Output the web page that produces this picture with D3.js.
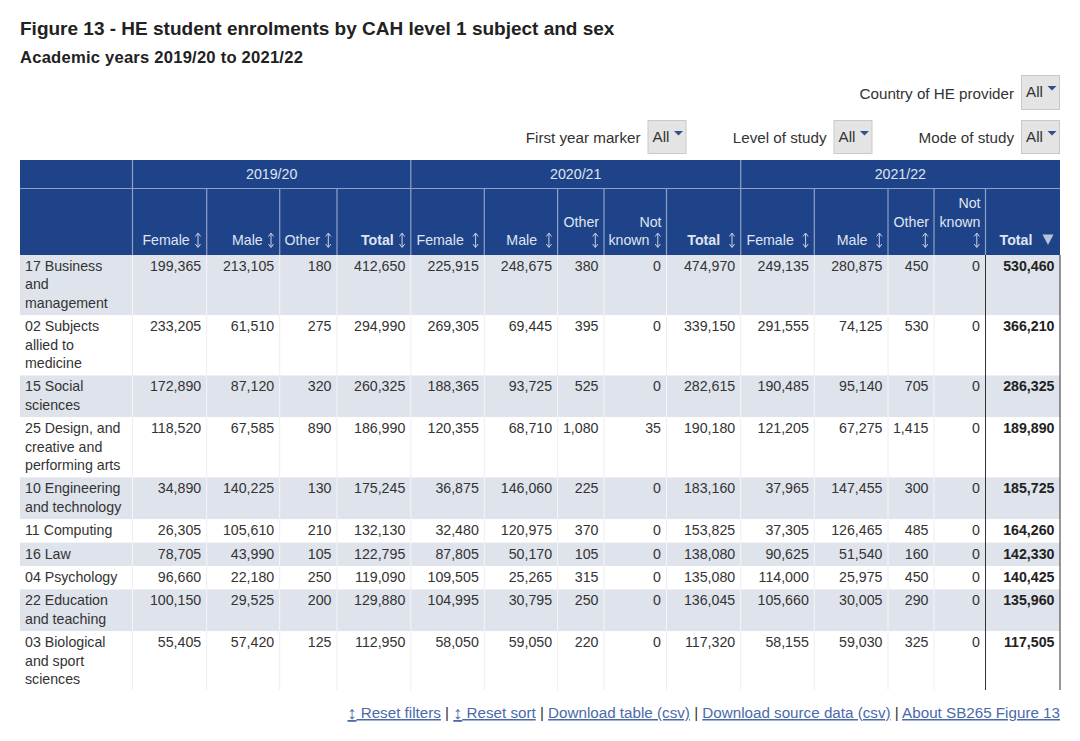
<!DOCTYPE html>
<html>
<head>
<meta charset="utf-8">
<script src="https://cdnjs.cloudflare.com/ajax/libs/d3/7.8.5/d3.min.js"></script>
<style>
  body { margin: 0; background: #fff; }
  svg { display: block; font-family: "Liberation Sans", Arial, sans-serif; }
  text { white-space: pre; }
</style>
</head>
<body>
<svg id="chart" width="1080" height="741"></svg>
<script>
const subjects = [
  ['17 Business', 'and', 'management'],
  ['02 Subjects', 'allied to', 'medicine'],
  ['15 Social', 'sciences'],
  ['25 Design, and', 'creative and', 'performing arts'],
  ['10 Engineering', 'and technology'],
  ['11 Computing'],
  ['16 Law'],
  ['04 Psychology'],
  ['22 Education', 'and teaching'],
  ['03 Biological', 'and sport', 'sciences']
]

const years = ['2019/20', '2020/21', '2021/22']

const female1920 = [199365, 233205, 172890, 118520, 34890, 26305, 78705, 96660, 100150, 55405]
const male1920 = [213105, 61510, 87120, 67585, 140225, 105610, 43990, 22180, 29525, 57420]
const other1920 = [180, 275, 320, 890, 130, 210, 105, 250, 200, 125]
const total1920 = [412650, 294990, 260325, 186990, 175245, 132130, 122795, 119090, 129880, 112950]

const female2021 = [225915, 269305, 188365, 120355, 36875, 32480, 87805, 109505, 104995, 58050]
const male2021 = [248675, 69445, 93725, 68710, 146060, 120975, 50170, 25265, 30795, 59050]
const other2021 = [380, 395, 525, 1080, 225, 370, 105, 315, 250, 220]
const unknown2021 = [0, 0, 0, 35, 0, 0, 0, 0, 0, 0]
const total2021 = [474970, 339150, 282615, 190180, 183160, 153825, 138080, 135080, 136045, 117320]

const female2122 = [249135, 291555, 190485, 121205, 37965, 37305, 90625, 114000, 105660, 58155]
const male2122 = [280875, 74125, 95140, 67275, 147455, 126465, 51540, 25975, 30005, 59030]
const other2122 = [450, 530, 705, 1415, 300, 485, 160, 450, 290, 325]
const unknown2122 = [0, 0, 0, 0, 0, 0, 0, 0, 0, 0]
const total2122 = [530460, 366210, 286325, 189890, 185725, 164260, 142330, 140425, 135960, 117505]

const valueColumns = [female1920, male1920, other1920, total1920,
  female2021, male2021, other2021, unknown2021, total2021,
  female2122, male2122, other2122, unknown2122, total2122]

const headerLabels = [
  ['Female'], ['Male'], ['Other'], ['Total'],
  ['Female'], ['Male'], ['Other', ''], ['Not', 'known'], ['Total'],
  ['Female'], ['Male'], ['Other', ''], ['Not', 'known', ''], ['Total']
]

const filtersTop = ['Country of HE provider']
const filtersBottom = ['First year marker', 'Level of study', 'Mode of study']

const links = ['Reset filters', 'Reset sort', 'Download table (csv)', 'Download source data (csv)', 'About SB265 Figure 13']

// layout
const edges = [20, 132.5, 206.7, 279.7, 337, 410.8, 484.3, 557.6, 604, 666.5, 740.7, 814.3, 888, 934, 985.5, 1060]
const labelGap = [17, 17, 17, 17, 20.5, 20.5, 5, 17, 20.5, 20.5, 20.5, 5, 5, 27.6]
const fontSize = 14.2
const uiFontSize = 15.2
const lineHeight = 18.4
const tableTop = 160
const subHeaderTop = 188.5
const bodyTop = 255
const tableBottom = 690
const headerText = '#dfe5f1'

const svg = d3.select('#chart')
const nCols = edges.length - 1

const x = d3.scaleOrdinal(d3.range(edges.length), edges)
const rowHeights = subjects.map(d => d.length * lineHeight + 5)
const rowTops = d3.cumsum([bodyTop].concat(rowHeights))

svg.append('text').attr('x', 20).attr('y', 35)
  .attr('font-size', 19).attr('font-weight', 'bold').attr('fill', '#222')
  .text('Figure 13 - HE student enrolments by CAH level 1 subject and sex')

svg.append('text').attr('x', 20).attr('y', 63)
  .attr('font-size', 16.6).attr('letter-spacing', 0.22).attr('font-weight', 'bold').attr('fill', '#222')
  .text('Academic years 2019/20 to 2021/22')

function drawFilter (label, right, top, h) {
  svg.append('text').attr('x', right - 46).attr('y', top + h - 10)
    .attr('text-anchor', 'end').attr('font-size', uiFontSize).attr('fill', '#333').text(label)
  svg.append('rect').attr('x', right - 38.5).attr('y', top + 0.5).attr('width', 38).attr('height', h)
    .attr('fill', '#e4e4e4').attr('stroke', '#c9c9c9')
  svg.append('text').attr('x', right - 34).attr('y', top + 22)
    .attr('font-size', uiFontSize).attr('fill', '#333').text('All')
  svg.append('path').attr('d', `M${right - 12.5},${top + 11}h9l-4.5,4.5z`)
    .attr('fill', '#2f4f90')
}

drawFilter(filtersTop[0], 1060, 75, 34)
drawFilter(filtersBottom[0], 686.5, 120, 33)
drawFilter(filtersBottom[1], 872.5, 120, 33)
drawFilter(filtersBottom[2], 1060, 120, 33)

// header block
svg.append('rect').attr('x', 20).attr('y', tableTop)
  .attr('width', 1040).attr('height', bodyTop - tableTop).attr('fill', '#1f4389')

const headerLine = '#8fa1c7'
const yearEdges = [1, 5, 10, 15]

svg.append('g').selectAll('line')
  .data(yearEdges.slice(0, -1))
  .join('line')
  .attr('x1', d => x(d)).attr('x2', d => x(d))
  .attr('y1', tableTop).attr('y2', subHeaderTop)
  .attr('stroke', headerLine).attr('stroke-width', 1.2)

svg.append('line').attr('x1', 20).attr('x2', 1060)
  .attr('y1', subHeaderTop).attr('y2', subHeaderTop)
  .attr('stroke', headerLine).attr('stroke-width', 1.2)

svg.append('g').selectAll('line')
  .data(d3.range(1, nCols))
  .join('line')
  .attr('x1', d => x(d)).attr('x2', d => x(d))
  .attr('y1', subHeaderTop).attr('y2', bodyTop)
  .attr('stroke', headerLine).attr('stroke-width', 1.2)

svg.append('g').selectAll('text')
  .data(years)
  .join('text')
  .attr('x', (d, i) => (x(yearEdges[i]) + x(yearEdges[i + 1])) / 2)
  .attr('y', 178.5)
  .attr('text-anchor', 'middle').attr('font-size', fontSize).attr('fill', headerText)
  .text(d => d)

const headerCols = svg.append('g').selectAll('g')
  .data(headerLabels)
  .join('g')

headerCols.selectAll('text')
  .data((lines, col) => lines.map((t, i) => ({ t, col, up: lines.length - 1 - i })))
  .join('text')
  .attr('x', d => x(d.col + 2) - (d.up === 0 ? labelGap[d.col] : 5))
  .attr('y', d => 245 - d.up * lineHeight)
  .attr('text-anchor', 'end')
  .attr('font-size', fontSize)
  .attr('font-weight', d => (d.t === 'Total' ? 'bold' : 'normal'))
  .attr('fill', headerText)
  .text(d => d.t)

// sort arrows, thin shaft with small heads, the last column has the sorted marker instead
svg.append('g').selectAll('path')
  .data(d3.range(valueColumns.length - 1))
  .join('path')
  .attr('d', d => {
    const cx = x(d + 2) - 8.7
    return `M${cx},233.5V247M${cx - 2.6},236.5L${cx},233L${cx + 2.6},236.5M${cx - 2.6},244L${cx},247.5L${cx + 2.6},244`
  })
  .attr('fill', 'none').attr('stroke', '#c9d2e5').attr('stroke-width', 1)

svg.append('path').attr('d', `M${x(15) - 17.5},234.5h11l-5.5,10.5z`).attr('fill', '#b9c4dc')

// body rows
svg.append('g').selectAll('rect')
  .data(subjects)
  .join('rect')
  .attr('x', 20).attr('width', 1040)
  .attr('y', (d, i) => rowTops[i])
  .attr('height', (d, i) => (i === subjects.length - 1 ? tableBottom - rowTops[i] : rowHeights[i]))
  .attr('fill', (d, i) => (i % 2 === 0 ? '#dfe3ec' : '#fff'))

// thin cell dividers, white on shaded rows and pale grey on the others
d3.range(1, nCols).forEach(col => {
  svg.append('g').selectAll('line')
    .data(subjects)
    .join('line')
    .attr('x1', x(col)).attr('x2', x(col))
    .attr('y1', (d, i) => rowTops[i])
    .attr('y2', (d, i) => (i === subjects.length - 1 ? tableBottom : rowTops[i + 1]))
    .attr('stroke', (d, i) => (i % 2 === 0 ? '#f4f5f8' : '#eeeeee'))
})

// the sorted column is boxed in dark lines
svg.append('g').selectAll('line')
  .data([14, 15])
  .join('line')
  .attr('x1', d => x(d)).attr('x2', d => x(d))
  .attr('y1', bodyTop).attr('y2', tableBottom)
  .attr('stroke', '#333').attr('stroke-width', 1)

svg.append('g').selectAll('g')
  .data(subjects)
  .join('g')
  .selectAll('text')
  .data((lines, row) => lines.map((t, i) => ({ t, row, i })))
  .join('text')
  .attr('x', 25)
  .attr('y', d => rowTops[d.row] + 16 + d.i * lineHeight)
  .attr('font-size', fontSize).attr('fill', '#333')
  .text(d => d.t)

const fmt = d3.format(',')

svg.append('g').selectAll('g')
  .data(valueColumns)
  .join('g')
  .selectAll('text')
  .data((vals, col) => vals.map((v, row) => ({ v, row, col })))
  .join('text')
  .attr('x', d => x(d.col + 2) - 5.5)
  .attr('y', d => rowTops[d.row] + 16)
  .attr('text-anchor', 'end')
  .attr('font-size', fontSize)
  .attr('font-weight', d => (d.col === valueColumns.length - 1 ? 'bold' : 'normal'))
  .attr('fill', d => (d.col === valueColumns.length - 1 ? '#222' : '#333'))
  .text(d => fmt(d.v))

// footer links, the first two start with the sort arrow
const footer = svg.append('text').attr('x', 1060).attr('y', 718)
  .attr('text-anchor', 'end').attr('font-size', uiFontSize)

links.forEach((t, i) => {
  if (i > 0) footer.append('tspan').attr('fill', '#333').text(' | ')
  if (i < 2) {
    footer.append('tspan').attr('fill', '#4a6aa9').attr('font-size', 18).attr('dy', 1).attr('text-decoration', 'underline').text('↕')
    footer.append('tspan').attr('fill', '#4a6aa9').attr('dy', -1).attr('text-decoration', 'underline').text(' ' + t)
  } else {
    footer.append('tspan').attr('fill', '#4a6aa9').attr('text-decoration', 'underline').text(t)
  }
})
</script>
</body>
</html>
